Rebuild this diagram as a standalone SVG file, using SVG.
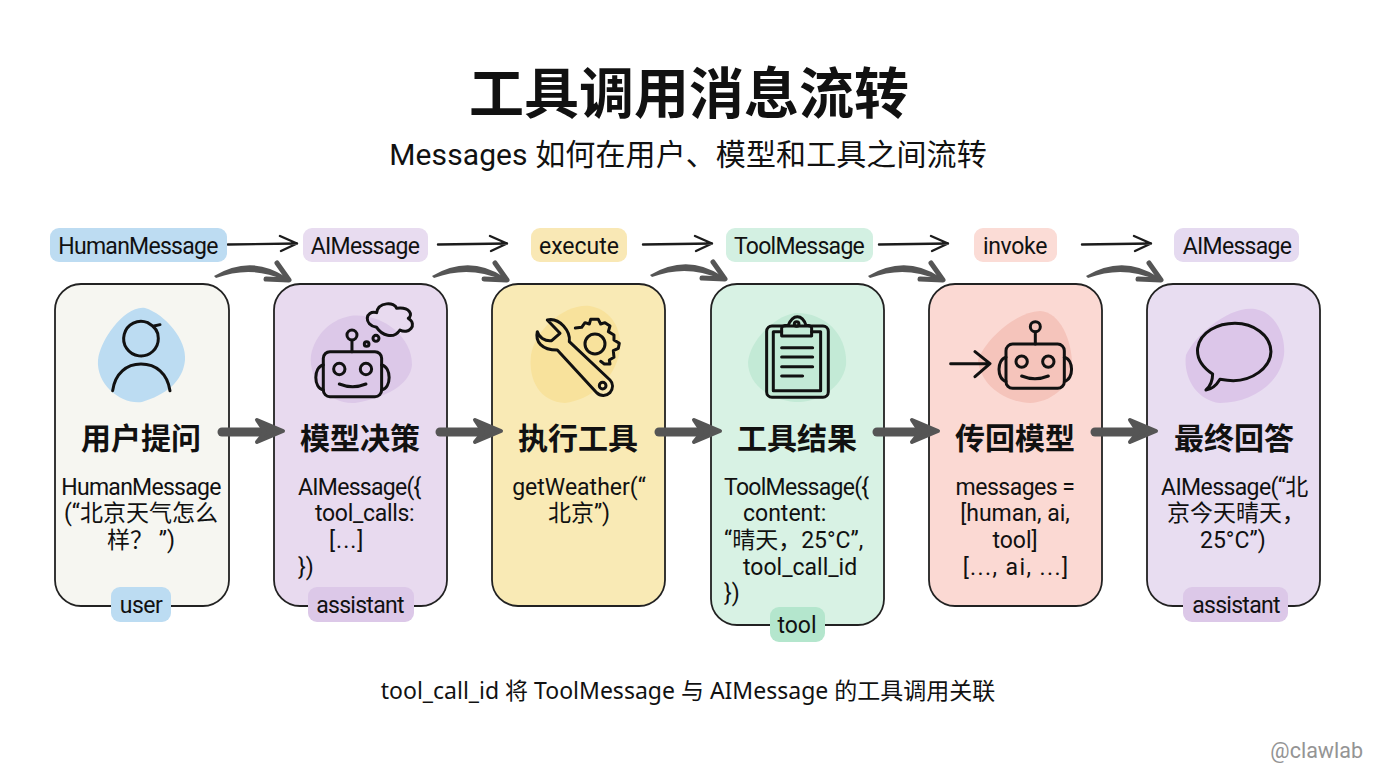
<svg xmlns="http://www.w3.org/2000/svg" width="1376" height="768" viewBox="0 0 1376 768">
<style>
text{font-family:"Roboto","Noto Sans CJK SC",sans-serif;fill:#111}
.cj{font-family:"Noto Sans CJK SC","Noto Sans",sans-serif}
.t{font-size:30px;font-weight:700;text-anchor:middle;font-family:"Noto Sans CJK SC",sans-serif}
.b{font-size:23px}
.m{text-anchor:middle}
.tag{font-size:23px;text-anchor:middle}
.n{letter-spacing:-.72px}
.card{stroke:#222;stroke-width:1.8}
.i{fill:none;stroke:#111;stroke-width:9;stroke-linecap:round;stroke-linejoin:round}
.thin{fill:none;stroke:#1c1c1c;stroke-width:2.4;stroke-linecap:round;stroke-linejoin:round}
.cur{fill:none;stroke:#555;stroke-width:5;stroke-linecap:round;stroke-linejoin:round}
.big{fill:none;stroke:#555;stroke-width:9;stroke-linecap:round;stroke-linejoin:round}
</style>
<defs>
<g id="thinA"><path class="thin" d="M0 0.5L69-0.5M52-8L69-0.5L53 7"/></g>
<g id="curA"><path d="M-1 0Q36-22 71 1L69 4Q36-11 1 2Z" fill="#555"/><path class="cur" d="M62-13L74 4L51 3"/></g>
<g id="bigA"><path class="big" d="M4 0L50 0"/><path d="M39-12L65-1L39 10L47 0Z" fill="#555" stroke="#555" stroke-width="4" stroke-linejoin="round"/></g>
</defs>
<rect width="1376" height="768" fill="#fff"/>
<text x="689" y="113" class="m cj" style="font-size:55px;font-weight:700">工具调用消息流转</text>
<text x="688" y="165" class="m" style="font-size:30px;letter-spacing:.1px">Messages 如何在用户、模型和工具之间流转</text>
<text x="688" y="699" class="m" style="font-family:'Noto Sans','Noto Sans CJK SC',sans-serif;font-size:23px">tool_call_id 将 ToolMessage 与 AIMessage 的工具调用关联</text>
<text x="1363" y="758" style="font-size:21.5px;fill:#949494;text-anchor:end">@clawlab</text>
<g id="connectors">
<use href="#thinA" x="228" y="244"/><use href="#thinA" x="438" y="244"/><use href="#thinA" x="643" y="244"/><use href="#thinA" x="879" y="244"/><use href="#thinA" x="1082" y="244"/>
<use href="#curA" x="215" y="276"/><use href="#curA" x="433" y="276"/><use href="#curA" x="651" y="275"/><use href="#curA" x="869" y="276"/><use href="#curA" x="1087" y="276"/>
</g>
<g id="tags">
<rect x="50" y="228" width="177" height="34" rx="9" fill="#bddcf2"/><text x="138" y="254" class="tag n">HumanMessage</text>
<rect x="303" y="228" width="125" height="34" rx="9" fill="#e8dcf0"/><text x="365" y="254" class="tag n">AIMessage</text>
<rect x="531" y="228" width="96" height="34" rx="9" fill="#f9e8b5"/><text x="579" y="254" class="tag">execute</text>
<rect x="726" y="228" width="147" height="34" rx="9" fill="#d3f0e2"/><text x="799" y="254" class="tag n">ToolMessage</text>
<rect x="974" y="228" width="83" height="34" rx="9" fill="#fbdcd6"/><text x="1015" y="254" class="tag" style="letter-spacing:-.3px">invoke</text>
<rect x="1174" y="228" width="125" height="34" rx="9" fill="#e5daf0"/><text x="1237" y="254" class="tag n">AIMessage</text>
</g>
<g id="node-user">
<rect class="card" x="55" y="284" width="174" height="322" rx="26" fill="#f6f6f1"/>
<path d="M145 308C165 314 187 340 185 360C183 382 165 395 142 402C122 405 96 385 98 360C100 340 125 305 145 308Z" fill="#bcdcf2"/>
<g transform="translate(30 220) scale(.3333)"><path class="i" d="M353 308A52 52 0 1 0 385 355C386 335 375 320 353 308M372 318L390 314"/><path class="i" d="M248 512C255 460 290 432 333 432C378 432 412 460 420 512"/></g>
<text x="141" y="449" class="t">用户提问</text>
<text x="141" y="495" class="b m n">HumanMessage</text><text x="141" y="521" class="b m">(“北京天气怎么</text><text x="141" y="548" class="b m">样？ ”)</text>
<rect x="111" y="587" width="60" height="35" rx="9" fill="#bcdcf2"/><text x="141" y="613" class="tag" style="letter-spacing:-.5px">user</text>
</g>
<g id="node-model">
<rect class="card" x="274" y="284" width="173" height="322" rx="26" fill="#e8daef"/>
<path d="M350 316C380 312 412 335 412 365C410 385 385 398 355 403C330 405 308 380 311 355C315 335 330 320 350 316Z" fill="#dcc8e8"/>
<g transform="translate(30 220) scale(.3333)"><rect class="i" x="880" y="395" width="175" height="135" rx="20"/><path class="i" d="M880 435C850 440 850 505 880 510M1055 435C1085 440 1085 505 1055 510M966 361V395M928 492Q968 508 1008 492"/><circle class="i" cx="928" cy="447" r="17"/><circle class="i" cx="1008" cy="447" r="17"/><circle class="i" cx="966" cy="345" r="15"/><circle class="i" cx="1010" cy="372" r="7" stroke-width="7"/><circle class="i" cx="1038" cy="355" r="9" stroke-width="7"/><path class="i" d="M1040 322C1000 315 1005 270 1040 278C1045 245 1095 245 1100 265C1140 260 1150 285 1135 295C1165 315 1135 345 1110 330C1090 360 1055 345 1040 322Z"/></g>
<text x="360" y="449" class="t">模型决策</text>
<text x="298" y="495" class="b n">AIMessage({</text><text x="315" y="521" class="b" style="letter-spacing:-.3px">tool_calls:</text><text x="329" y="548" class="b" style="letter-spacing:1px">[...]</text><text x="298" y="575" class="b">})</text>
<rect x="308" y="587" width="106" height="35" rx="9" fill="#dcc8e8"/><text x="360" y="613" class="tag n">assistant</text>
</g>
<g id="node-execute">
<rect class="card" x="492" y="284" width="173" height="322" rx="26" fill="#f9eab5"/>
<path d="M590 306C612 310 622 330 620 350C615 380 590 400 565 403C540 402 528 380 531 355C535 330 565 303 590 306Z" fill="#f8e29c"/>
<g transform="translate(470 220) scale(.3333)"><path class="i" d="M232 300L270 340L245 362C225 365 205 350 202 335C195 365 215 390 262 390L380 518C392 530 410 528 420 518C430 505 430 490 420 480L298 365C302 335 270 292 232 300Z"/><circle class="i" cx="398" cy="497" r="10" stroke-width="7"/><circle class="i" cx="375" cy="372" r="30"/><path class="i" d="M316 324L335 322L345 308L358 312L362 298L385 298L392 312L405 308L420 318L415 335L432 345L432 360L448 370L445 385L430 392L432 412L418 420L420 432L403 432L392 424"/></g>
<text x="578" y="449" class="t">执行工具</text>
<text x="579" y="495" class="b m">getWeather(“</text><text x="579" y="521" class="b m">北京”)</text>
</g>
<g id="node-result">
<rect class="card" x="711" y="284" width="173" height="341" rx="26" fill="#d8f2e4"/>
<path d="M795 313C825 312 848 335 846 365C842 390 815 403 795 402C770 400 748 385 748 362C750 340 775 316 795 313Z" fill="#c3ead6"/>
<g transform="translate(470 220) scale(.3333)"><rect class="i" x="890" y="318" width="185" height="214" rx="16"/><path class="i" d="M935 335H910V512H1052V335H1025"/><path class="i" d="M935 348V325Q935 316 955 316Q965 290 982 290Q1000 290 1008 316Q1025 316 1025 325V348Z" fill="#d0efdf"/><circle class="i" cx="980" cy="312" r="7" stroke-width="6"/><path class="i" d="M935 383H1028M935 411H1028M935 440H1028M935 468H998"/></g>
<text x="797" y="449" class="t">工具结果</text>
<text x="724" y="495" class="b n">ToolMessage({</text><text x="743" y="521" class="b">content:</text><text x="724" y="548" class="b">“晴天，25°C”,</text><text x="743" y="575" class="b">tool_call_id</text><text x="724" y="601" class="b">})</text>
<rect x="770" y="607" width="55" height="35" rx="9" fill="#b4e6cd"/><text x="797" y="633" class="tag">tool</text>
</g>
<g id="node-return">
<rect class="card" x="929" y="284" width="173" height="322" rx="26" fill="#fbd9d3"/>
<path d="M1040 311C1060 312 1072 340 1072 365C1070 388 1050 402 1030 403C1005 402 980 385 978 360C985 340 1015 312 1040 311Z" fill="#f5c4bb"/>
<g transform="translate(900 220) scale(.3333)"><rect class="i" x="318" y="372" width="175" height="133" rx="20"/><path class="i" d="M318 412C290 418 290 478 318 484M493 412C522 418 522 478 493 484M406 336V372M365 468Q405 484 445 468M152 431H268M225 395L270 431L225 470"/><circle class="i" cx="365" cy="425" r="17"/><circle class="i" cx="445" cy="425" r="17"/><circle class="i" cx="406" cy="320" r="15"/></g>
<text x="1015" y="449" class="t">传回模型</text>
<text x="1015" y="495" class="b m" style="letter-spacing:-.5px">messages =</text><text x="1015" y="521" class="b m">[human, ai,</text><text x="1015" y="548" class="b m">tool]</text><text x="1016" y="575" class="b m" style="letter-spacing:1.4px">[..., ai, ...]</text>
</g>
<g id="node-answer">
<rect class="card" x="1147" y="284" width="173" height="322" rx="26" fill="#e8ddf1"/>
<path d="M1255 309C1275 312 1286 335 1284 355C1280 385 1250 403 1220 403C1195 400 1183 375 1186 355C1195 335 1230 305 1255 309Z" fill="#dcc6e9"/>
<g transform="translate(900 220) scale(.3333)"><path class="i" d="M918 510C935 495 938 480 938 462C905 440 890 415 893 385C900 335 955 310 1005 310C1060 310 1112 345 1113 395C1112 445 1055 482 1000 482C985 482 972 480 960 478C950 495 935 508 918 510Z"/></g>
<text x="1234" y="449" class="t">最终回答</text>
<text x="1161" y="495" class="b" style="letter-spacing:-.6px">AIMessage(“北</text><text x="1167" y="521" class="b">京今天晴天，</text><text x="1200" y="548" class="b">25°C”)</text>
<rect x="1183" y="587" width="105" height="35" rx="9" fill="#dcc8e8"/><text x="1236" y="613" class="tag n">assistant</text>
</g>
<g id="flow">
<use href="#bigA" x="218" y="432"/><use href="#bigA" x="436" y="432"/><use href="#bigA" x="655" y="432"/><use href="#bigA" x="873" y="432"/><use href="#bigA" x="1091" y="432"/>
</g>
</svg>
